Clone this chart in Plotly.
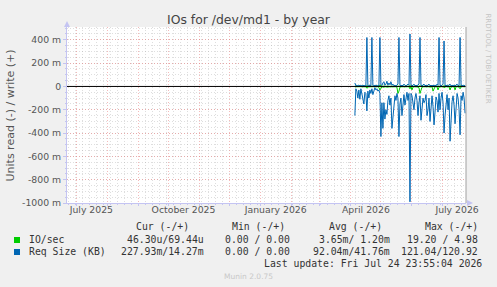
import pandas as pd
import plotly.graph_objects as go

# ---------------- data ----------------
start_date = "2026-04-05"
# Req Size (KB) daily averages, read (plotted negative) and write (positive)
req_read = [0.25, 0.02, 0.04, 0.10, 0.03, 0.11, 0.02, 0.06, 0.12, 0.15,
            0.05, 0.06, 0.21, 0.04, 0.10, 0.03, 0.06, 0.02, 0.07, 0.03,
            0.01, 0.03, 0.02, 0.04, 0.03, 0.06, 0.43, 0.14, 0.36, 0.14,
            0.28, 0.20, 0.24, 0.12, 0.08, 0.16, 0.10, 0.36, 0.26, 0.18,
            0.08, 0.12, 0.06, 0.10, 0.43, 0.15, 0.10, 0.25, 0.14, 0.07,
            0.16, 0.08, 0.05, 0.12, 0.06, 0.99, 0.06, 0.08, 0.14, 0.20,
            0.10, 0.06, 0.12, 0.25, 0.14, 0.08, 0.29, 0.20, 0.10, 0.14,
            0.12, 0.07, 0.25, 0.20, 0.10, 0.30, 0.14, 0.08, 0.17, 0.33,
            0.22, 0.09, 0.12, 0.22, 0.06, 0.20, 0.10, 0.05, 0.14, 0.40,
            0.25, 0.12, 0.07, 0.20, 0.10, 0.47, 0.22, 0.13, 0.08, 0.16,
            0.32, 0.12, 0.06, 0.10, 0.20, 0.415, 0.08, 0.12, 0.05, 0.10,
            0.23]
req_write = [0.03, 0.006, 0.01, 0.005, 0.012, 0.006, 0.01, 0.005, 0.008, 0.006,
             0.01, 0.005, 0.42, 0.008, 0.005, 0.01, 0.006, 0.42, 0.008, 0.005,
             0.01, 0.006, 0.008, 0.005, 0.01, 0.42, 0.015, 0.008, 0.03, 0.04,
             0.01, 0.02, 0.045, 0.01, 0.03, 0.015, 0.04, 0.01, 0.02, 0.006,
             0.01, 0.005, 0.012, 0.02, 0.42, 0.01, 0.005, 0.01, 0.006, 0.02,
             0.01, 0.005, 0.012, 0.02, 0.01, 0.45, 0.01, 0.006, 0.01, 0.02,
             0.005, 0.01, 0.006, 0.012, 0.02, 0.42, 0.01, 0.005, 0.01, 0.02,
             0.006, 0.01, 0.005, 0.012, 0.02, 0.006, 0.01, 0.005, 0.01, 0.006,
             0.012, 0.005, 0.02, 0.01, 0.42, 0.01, 0.005, 0.01, 0.02, 0.39,
             0.01, 0.005, 0.012, 0.006, 0.01, 0.02, 0.005, 0.01, 0.006, 0.012,
             0.005, 0.01, 0.02, 0.006, 0.01, 0.42, 0.01, 0.005, 0.012, 0.006,
             0.01]
# IO/sec daily averages
io_read = [0.003, 0.002, 0.003, 0.002, 0.003, 0.004, 0.002, 0.003, 0.002, 0.004,
           0.002, 0.003, 0.015, 0.003, 0.002, 0.003, 0.002, 0.006, 0.002, 0.003,
           0.002, 0.003, 0.002, 0.003, 0.008, 0.03, 0.01, 0.003, 0.006, 0.003,
           0.005, 0.003, 0.006, 0.003, 0.002, 0.003, 0.003, 0.006, 0.004, 0.003,
           0.002, 0.003, 0.008, 0.06, 0.04, 0.006, 0.003, 0.004, 0.003, 0.002,
           0.003, 0.002, 0.003, 0.002, 0.003, 0.02, 0.003, 0.03, 0.006, 0.003,
           0.002, 0.003, 0.004, 0.006, 0.01, 0.06, 0.04, 0.006, 0.003, 0.002,
           0.003, 0.002, 0.003, 0.004, 0.003, 0.006, 0.003, 0.002, 0.04, 0.02,
           0.003, 0.002, 0.003, 0.03, 0.006, 0.003, 0.002, 0.003, 0.002, 0.01,
           0.003, 0.002, 0.003, 0.006, 0.003, 0.03, 0.006, 0.003, 0.002, 0.003,
           0.03, 0.003, 0.002, 0.003, 0.006, 0.02, 0.003, 0.002, 0.003, 0.002,
           0.003]
io_write = [0.002, 0.001, 0.002, 0.001, 0.002, 0.001, 0.002, 0.001, 0.002, 0.001,
            0.002, 0.001, 0.006, 0.002, 0.001, 0.002, 0.001, 0.006, 0.002, 0.001,
            0.002, 0.001, 0.002, 0.001, 0.002, 0.012, 0.002, 0.001, 0.002, 0.004,
            0.002, 0.001, 0.004, 0.002, 0.001, 0.002, 0.004, 0.002, 0.001, 0.002,
            0.001, 0.002, 0.001, 0.002, 0.006, 0.002, 0.001, 0.002, 0.001, 0.002,
            0.001, 0.002, 0.001, 0.002, 0.001, 0.008, 0.002, 0.001, 0.002, 0.001,
            0.002, 0.001, 0.002, 0.001, 0.002, 0.006, 0.002, 0.001, 0.002, 0.001,
            0.002, 0.001, 0.002, 0.001, 0.002, 0.001, 0.002, 0.001, 0.002, 0.001,
            0.002, 0.001, 0.002, 0.001, 0.006, 0.002, 0.001, 0.002, 0.001, 0.006,
            0.002, 0.001, 0.002, 0.001, 0.002, 0.001, 0.002, 0.001, 0.002, 0.001,
            0.002, 0.001, 0.002, 0.001, 0.002, 0.006, 0.002, 0.001, 0.002, 0.001,
            0.002]

y_tick_vals = [-1.0, -0.8, -0.6, -0.4, -0.2, 0.0, 0.2, 0.4]
y_tick_text = ["-1000 m", "-800 m", "-600 m", "-400 m", "-200 m", "0", "200 m", "400 m"]
x_label_vals = ["2025-07-16", "2025-10-16", "2026-01-16", "2026-04-16", "2026-07-16"]
x_label_text = ["July 2025", "October 2025", "January 2026", "April 2026", "July 2026"]
x_range = ["2025-06-21 17:00", "2026-07-24 22:00"]

legend_header = ["Cur (-/+)", "Min (-/+)", "Avg (-/+)", "Max (-/+)"]
legend_rows = [
    ("IO/sec", "#00CC00", ["46.30u/69.44u", "0.00 / 0.00", "3.65m/ 1.20m", "19.20 / 4.98"]),
    ("Req Size (KB)", "#0066B3", ["227.93m/14.27m", "0.00 / 0.00", "92.04m/41.76m", "121.04/120.92"]),
]

# ---------------- figure ----------------
W, H = 497, 287
L, R, T, B = 67, 31, 27, 84
PW, PH = W - L - R, H - T - B


def px_x(p):
    return (p - L) / PW


def px_y(p):
    return (H - B - p) / PH


dates = pd.date_range(start_date, periods=len(req_read), freq="D")
GREEN, BLUE = "#00CC00", "#0066B3"

fig = go.Figure()
fig.add_trace(go.Scatter(x=dates, y=[-v for v in io_read], mode="lines",
                         line=dict(color=GREEN, width=1), showlegend=False))
fig.add_trace(go.Scatter(x=dates, y=io_write, mode="lines",
                         line=dict(color=GREEN, width=1), showlegend=False))
fig.add_trace(go.Scatter(x=dates, y=[-v for v in req_read], mode="lines",
                         line=dict(color=BLUE, width=1), showlegend=False))
fig.add_trace(go.Scatter(x=dates, y=req_write, mode="lines",
                         line=dict(color=BLUE, width=1), showlegend=False))
# invisible trace to activate xaxis2 (labels)
fig.add_trace(go.Scatter(x=[x_label_vals[0]], y=[0], xaxis="x2", mode="markers",
                         marker=dict(opacity=0), showlegend=False, hoverinfo="skip"))

MAJOR = "rgba(235,130,130,0.55)"
MINOR = "rgba(160,160,160,0.35)"
AXIS = "#C4C4F2"
TICKFONT = dict(family="DejaVu Sans", size=9.3, color="#555555")
MONO = dict(family="DejaVu Sans Mono", size=9.8, color="#333333")

fig.update_layout(
    width=W, height=H,
    margin=dict(l=L, r=R, t=T, b=B, pad=0),
    paper_bgcolor="#F0F0F0", plot_bgcolor="#FFFFFF",
    title=dict(text="IOs for /dev/md1 - by year", x=0.5, xanchor="center",
               xref="container", y=1 - 20 / H, yref="container", yanchor="middle",
               font=dict(family="DejaVu Sans", size=12.4, color="#444444")),
    xaxis=dict(type="date", range=x_range, showticklabels=False,
               tickmode="linear", tick0="2025-07-01", dtick="M1",
               showgrid=True, gridcolor=MAJOR, griddash="1px,2px", gridwidth=1,
               ticks="outside", ticklen=2, tickcolor=AXIS,
               minor=dict(tickmode="linear", tick0="2025-06-23", dtick=7 * 86400000,
                          showgrid=True, gridcolor=MINOR, griddash="1px,2px", gridwidth=1,
                          ticks="outside", ticklen=1, tickcolor=AXIS),
               showline=True, linecolor=AXIS, linewidth=1, zeroline=False),
    xaxis2=dict(type="date", range=x_range, overlaying="x", side="bottom",
                tickmode="array", tickvals=x_label_vals, ticktext=x_label_text,
                showgrid=False, ticks="", showline=False, zeroline=False,
                tickfont=TICKFONT),
    yaxis=dict(range=[-1.0, 0.51], tickmode="array", tickvals=y_tick_vals,
               ticktext=y_tick_text, tickfont=TICKFONT,
               showgrid=True, gridcolor=MAJOR, griddash="1px,2px", gridwidth=1,
               ticks="outside", ticklen=3, tickcolor=AXIS,
               minor=dict(tickmode="linear", tick0=0, dtick=0.05, showgrid=True,
                          gridcolor=MINOR, griddash="1px,2px", gridwidth=1,
                          ticks="outside", ticklen=1, tickcolor=AXIS),
               showline=True, linecolor=AXIS, linewidth=1, zeroline=False),
    showlegend=False,
)

# zero rule and right border
fig.add_shape(type="line", xref="paper", yref="y", x0=0, x1=1, y0=0, y1=0,
              line=dict(color="#000000", width=1), layer="above")
fig.add_shape(type="line", xref="paper", yref="paper", x0=1, x1=1, y0=0, y1=1,
              line=dict(color="#A0A0A0", width=1), layer="above")


def tri(points):
    p = [f"{px_x(a):.5f},{px_y(b):.5f}" for a, b in points]
    return "M " + " L ".join(p) + " Z"


# axis arrows
fig.add_shape(type="path", xref="paper", yref="paper",
              path=tri([(64, 27), (70, 27), (67, 21)]),
              fillcolor=AXIS, line=dict(width=0), layer="above")
fig.add_shape(type="path", xref="paper", yref="paper",
              path=tri([(467, 200), (467, 206), (473, 203)]),
              fillcolor=AXIS, line=dict(width=0), layer="above")

ann = []
# y axis title
ann.append(dict(x=px_x(10), y=px_y(115.5), text="Units read (-) / write (+)", textangle=-90,
                font=dict(family="DejaVu Sans", size=11, color="#555555")))
# rrdtool watermark
ann.append(dict(x=px_x(488), y=px_y(58.5), text="RRDTOOL / TOBI OETIKER", textangle=90,
                font=dict(family="DejaVu Sans", size=7, color="#C4C4C4")))
# legend header
for txt, xp in zip(legend_header, [134.3, 230, 327, 423]):
    ann.append(dict(x=px_x(xp), y=px_y(227), text=txt.replace(" ", "&nbsp;"),
                    xanchor="left", font=MONO))
row_y = [239.7, 251.7]
col_x = [[125, 223, 317.3, 405], [119, 223, 311, 399]]
for (name, color, vals), ry, cx in zip(legend_rows, row_y, col_x):
    ann.append(dict(x=px_x(26.7), y=px_y(ry), text=name.replace(" ", "&nbsp;"),
                    xanchor="left", font=MONO))
    for v, xp in zip(vals, cx):
        ann.append(dict(x=px_x(xp), y=px_y(ry), text=v.replace(" ", "&nbsp;"),
                        xanchor="left", font=MONO))
    fig.add_shape(type="rect", xref="paper", yref="paper",
                  x0=px_x(14), x1=px_x(20), y0=px_y(ry + 3.3), y1=px_y(ry - 2.7),
                  fillcolor=color, line=dict(width=0))
ann.append(dict(x=px_x(261.7), y=px_y(263), text="Last&nbsp;update:&nbsp;Fri&nbsp;Jul&nbsp;24&nbsp;23:55:04&nbsp;2026",
                xanchor="left", font=MONO))
ann.append(dict(x=px_x(248.5), y=px_y(276.3), text="Munin 2.0.75",
                font=dict(family="DejaVu Sans", size=7.5, color="#C8C8C8")))
for a in ann:
    a.setdefault("xanchor", "center")
    a.update(xref="paper", yref="paper", yanchor="middle", showarrow=False)
    fig.add_annotation(**a)

fig.write_html("out.html")
